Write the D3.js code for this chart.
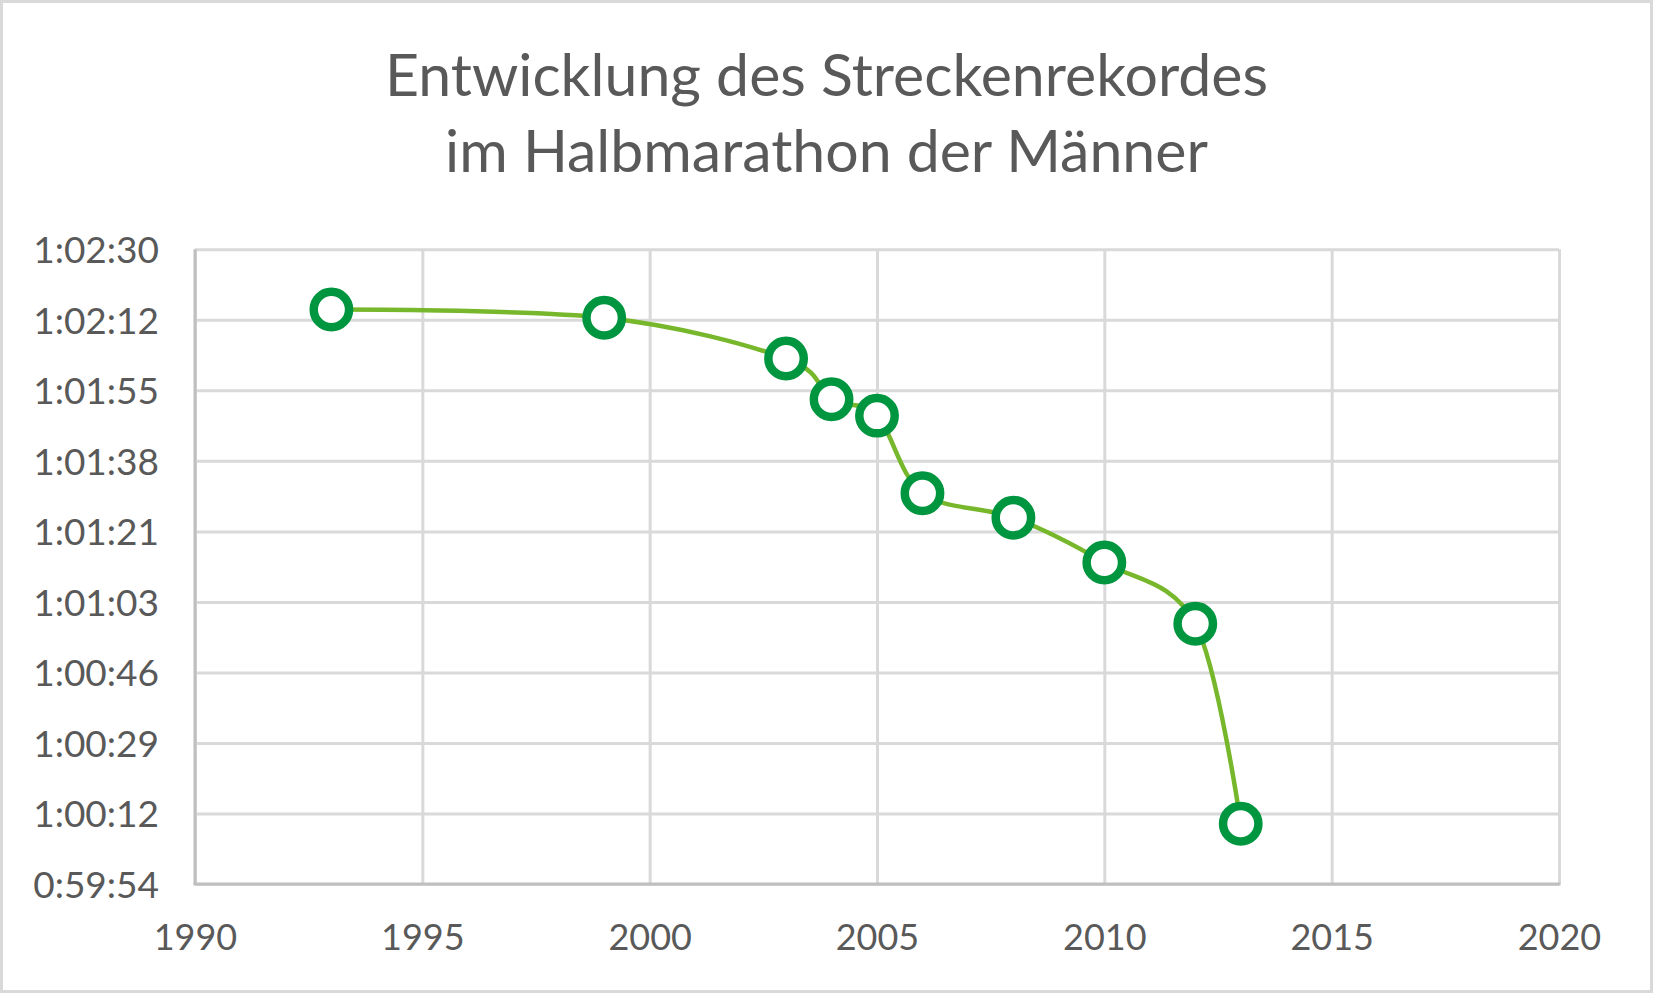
<!DOCTYPE html>
<html>
<head>
<meta charset="utf-8">
<script src="https://cdn.jsdelivr.net/npm/d3@7"></script>
<style>
  html, body { margin: 0; padding: 0; background: #ffffff; }
  svg { display: block; }
</style>
</head>
<body>
<svg id="chart" width="1653" height="993"></svg>
<script>
// ---- Data ----
const titleLines = ["Entwicklung des Streckenrekordes", "im Halbmarathon der Männer"];
const years = [1993, 1999, 2003, 2004, 2005, 2006, 2008, 2010, 2012, 2013];
const times = ["1:02:15", "1:02:13", "1:02:03", "1:01:53", "1:01:49", "1:01:30", "1:01:24", "1:01:13", "1:00:58", "1:00:09"];
const xTicks = [1990, 1995, 2000, 2005, 2010, 2015, 2020];
const yTickValues = [3594.24, 3611.52, 3628.80, 3646.08, 3663.36, 3680.64, 3697.92, 3715.20, 3732.48, 3749.76];
const yTickLabels = ["0:59:54", "1:00:12", "1:00:29", "1:00:46", "1:01:03", "1:01:21", "1:01:38", "1:01:55", "1:02:12", "1:02:30"];

function toSeconds(s) {
  const p = s.split(":").map(Number);
  return p[0] * 3600 + p[1] * 60 + p[2];
}
const data = years.map((y, i) => ({ year: y, sec: toSeconds(times[i]) }));

// ---- Layout ----
const W = 1653, H = 993;
const plot = { left: 195, right: 1559, top: 249.3, bottom: 884 };
const font = "Lato, 'Open Sans', sans-serif";
const textColor = "#595959";

const svg = d3.select("#chart");

// outer border
svg.append("rect")
  .attr("x", 1.5).attr("y", 1.5)
  .attr("width", W - 3).attr("height", H - 3)
  .attr("fill", "#ffffff")
  .attr("stroke", "#d9d9d9")
  .attr("stroke-width", 3);

const x = d3.scaleLinear().domain([xTicks[0], xTicks[xTicks.length - 1]]).range([plot.left, plot.right]);
const y = d3.scaleLinear().domain([yTickValues[0], yTickValues[yTickValues.length - 1]]).range([plot.bottom, plot.top]);

// title
const title = svg.append("text")
  .attr("text-anchor", "middle")
  .attr("font-family", font)
  .attr("font-size", 59)
  .attr("fill", textColor);
title.selectAll("tspan").data(titleLines).join("tspan")
  .attr("x", W / 2)
  .attr("y", (d, i) => 96 + i * 76)
  .text(d => d);

// horizontal gridlines
const yAxis = d3.axisLeft(y)
  .tickValues(yTickValues)
  .tickFormat((d, i) => yTickLabels[i])
  .tickSize(-(plot.right - plot.left))
  .tickPadding(36);
const gy = svg.append("g").attr("transform", `translate(${plot.left},0)`).call(yAxis);
gy.select(".domain").remove();
gy.selectAll(".tick line").attr("stroke", "#d9d9d9").attr("stroke-width", 3);
gy.selectAll(".tick text")
  .attr("font-family", font).attr("font-size", 37).attr("fill", textColor)
  .attr("dy", "0.36em");

// vertical gridlines + x labels
const xAxis = d3.axisBottom(x)
  .tickValues(xTicks)
  .tickFormat(d3.format("d"))
  .tickSize(-(plot.bottom - plot.top))
  .tickPadding(0);
const gx = svg.append("g").attr("transform", `translate(0,${plot.bottom})`).call(xAxis);
gx.select(".domain").remove();
gx.selectAll(".tick line").attr("stroke", "#d9d9d9").attr("stroke-width", 3);
gx.selectAll(".tick text")
  .attr("font-family", font).attr("font-size", 36).attr("fill", textColor)
  .attr("y", 66).attr("dy", 0);

// axis lines
svg.append("line")
  .attr("x1", plot.left).attr("x2", plot.left)
  .attr("y1", plot.top).attr("y2", plot.bottom)
  .attr("stroke", "#bfbfbf").attr("stroke-width", 3);
svg.append("line")
  .attr("x1", plot.left - 1.5).attr("x2", plot.right + 1.5)
  .attr("y1", plot.bottom).attr("y2", plot.bottom)
  .attr("stroke", "#bfbfbf").attr("stroke-width", 3);

// smoothed line
const line = d3.line()
  .x(d => x(d.year))
  .y(d => y(d.sec))
  .curve(d3.curveCardinal.tension(0));
svg.append("path")
  .datum(data)
  .attr("d", line)
  .attr("fill", "none")
  .attr("stroke", "#77b72b")
  .attr("stroke-width", 4.5);

// markers
svg.append("g").selectAll("circle").data(data).join("circle")
  .attr("cx", d => x(d.year))
  .attr("cy", d => y(d.sec))
  .attr("r", 17.7)
  .attr("fill", "#ffffff")
  .attr("stroke", "#00963f")
  .attr("stroke-width", 8.5);
</script>
</body>
</html>
